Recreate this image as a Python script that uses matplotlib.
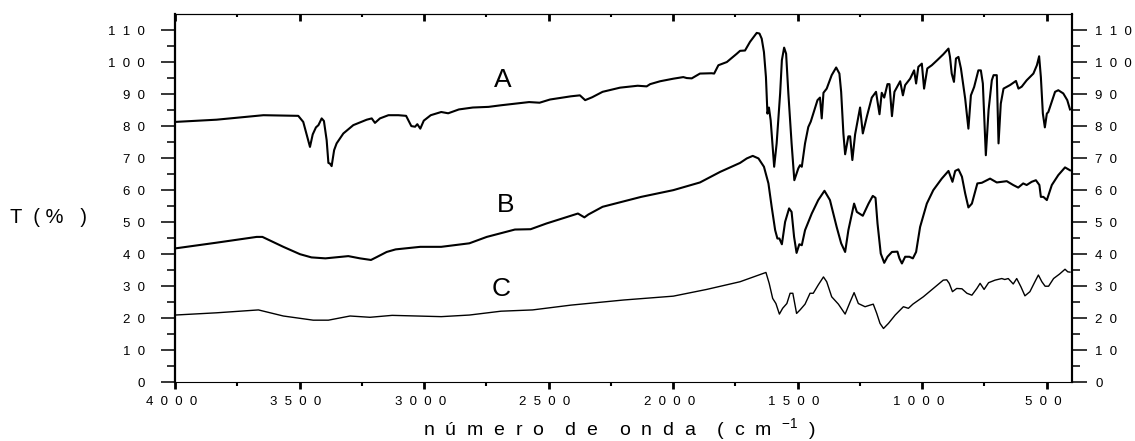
import numpy as np
import matplotlib.pyplot as plt
from matplotlib.ticker import MultipleLocator, FixedLocator, FuncFormatter

plt.rcParams['font.family'] = 'Liberation Sans'
plt.rcParams['mathtext.fontset'] = 'custom'
plt.rcParams['mathtext.rm'] = 'Liberation Sans'
plt.rcParams['mathtext.default'] = 'regular'

# spectrum A
A_wn = [4000, 3833, 3645, 3505, 3485, 3469, 3458, 3447, 3434, 3424, 3411, 3402, 3391, 3384,
        3378, 3371, 3361, 3351, 3324, 3284, 3230, 3210, 3197, 3177, 3143, 3103, 3072, 3051,
        3036, 3027, 3015, 3001, 2973, 2931, 2903, 2860, 2804, 2741, 2691, 2635, 2578, 2536,
        2494, 2410, 2374, 2353, 2325, 2283, 2213, 2142, 2106, 2092, 2052, 1999, 1959, 1945,
        1925, 1892, 1845, 1835, 1818, 1784, 1744, 1731, 1711, 1691, 1664, 1653, 1644, 1635,
        1627, 1621, 1615, 1608, 1594, 1584, 1570, 1563, 1554, 1546, 1537, 1524, 1513, 1497,
        1490, 1483, 1470, 1457, 1447, 1437, 1420, 1410, 1403, 1396, 1383, 1363, 1345, 1332,
        1325, 1316, 1309, 1296, 1289, 1280, 1269, 1249, 1238, 1222, 1202, 1185, 1171, 1162,
        1152, 1139, 1131, 1121, 1111, 1088, 1077, 1068, 1048, 1032, 1024, 1015, 1001, 992,
        979, 961, 939, 915, 894, 888, 881, 872, 864, 854, 844, 827, 814, 804, 791, 774, 764,
        756, 744, 733, 720, 713, 700, 693, 684, 673, 647, 623, 613, 600, 580, 553, 539, 530,
        523, 515, 507, 499, 493, 466, 453, 433, 417, 406]
A_t = [81.3, 82.0, 83.4, 83.2, 81.3, 76.6, 73.5, 77.4, 79.6, 80.3, 82.4, 81.6, 75.6, 68.5,
       68.3, 67.5, 72.5, 74.6, 77.7, 80.3, 82.0, 82.4, 81.0, 82.4, 83.4, 83.4, 83.2, 80.0,
       79.8, 80.6, 79.2, 81.7, 83.4, 84.4, 84.0, 85.2, 85.8, 86.0, 86.5, 87.0, 87.5, 87.3,
       88.3, 89.3, 89.6, 88.1, 89.0, 90.7, 92.0, 92.6, 92.4, 93.1, 94.0, 94.8, 95.3, 95.0,
       94.9, 96.4, 96.5, 96.4, 99.0, 100.0, 102.6, 103.5, 103.6, 106.3, 109.1, 108.9, 107.3, 103.1,
       95.3, 83.9, 85.8, 81.8, 67.3, 74.6, 90.2, 100.6, 104.5, 102.6, 90.2, 74.6, 63.1, 66.8,
       67.8, 67.3, 74.6, 79.7, 81.4, 83.9, 88.1, 88.9, 82.4, 90.4, 91.7, 95.9, 98.3, 96.4,
       90.7, 77.7, 71.2, 76.8, 76.8, 69.4, 77.4, 85.8, 77.7, 82.9, 88.9, 90.7, 83.7, 90.4,
       88.9, 93.1, 93.1, 83.1, 90.7, 94.0, 89.6, 92.8, 94.8, 97.4, 93.3, 98.5, 99.5, 91.7,
       98.0, 99.0, 100.6, 102.4, 104.2, 101.6, 96.4, 93.8, 101.1, 101.6, 98.0, 88.6, 79.2, 89.6, 92.2, 97.4, 97.4,
       93.3, 70.9, 85.0, 94.3, 95.9, 95.9, 74.6, 87.0, 91.7, 92.8, 94.1, 91.7, 92.3, 94.3, 96.4, 99.0, 101.8,
       95.3, 83.9, 79.6, 83.9, 84.4, 90.7, 91.2, 90.2, 88.1, 85.2]

# spectrum B
B_wn = [4000, 3833, 3672, 3649, 3565, 3498, 3452, 3396, 3304, 3257, 3213, 3190, 3150, 3114,
        3015, 2931, 2818, 2748, 2635, 2572, 2508, 2382, 2356, 2340, 2283, 2128, 1999, 1892,
        1811, 1731, 1704, 1680, 1657, 1635, 1617, 1604, 1590, 1581, 1573, 1563, 1550, 1534,
        1524, 1514, 1504, 1493, 1483, 1470, 1443, 1417, 1392, 1370, 1343, 1325, 1309, 1296,
        1273, 1262, 1238, 1215, 1198, 1187, 1179, 1166, 1152, 1139, 1121, 1099, 1091, 1081,
        1068, 1051, 1037, 1024, 1008, 981, 955, 921, 894, 878, 867, 854, 840, 827, 814, 800,
        778, 760, 727, 700, 660, 634, 614, 594, 580, 560, 543, 529, 523, 513, 499, 479, 453,
        426, 406]
B_t = [41.8, 43.6, 45.4, 45.4, 42.3, 40.0, 39.0, 38.7, 39.4, 38.7, 38.2, 39.1, 40.7, 41.5,
       42.3, 42.3, 43.4, 45.4, 47.7, 47.8, 49.6, 52.7, 51.5, 52.4, 54.8, 57.9, 60.0, 62.4,
       65.7, 68.5, 69.9, 70.7, 69.9, 67.3, 62.1, 54.8, 47.5, 44.9, 44.9, 43.1, 50.1, 54.3,
       53.2, 45.4, 40.4, 43.1, 42.8, 47.5, 52.7, 56.9, 59.8, 56.9, 48.5, 43.4, 40.7, 47.5,
       55.8, 53.2, 52.0, 55.8, 58.2, 57.6, 49.6, 40.2, 37.3, 39.2, 40.7, 40.8, 38.7, 37.1,
       39.2, 39.2, 38.7, 40.7, 48.5, 55.8, 60.0, 63.6, 66.0, 62.6, 66.0, 66.5, 64.2, 59.0, 54.6, 55.8,
       62.1, 62.3, 63.6, 62.4, 62.8, 61.6, 60.8, 62.1, 61.6, 62.6, 63.1, 61.6, 57.9, 57.9, 56.9, 61.6, 64.7,
       67.1, 66.2]

# spectrum C
C_wn = [4000, 3833, 3665, 3565, 3445, 3384, 3297, 3217, 3128, 3029, 2931, 2818, 2691, 2564,
        2410, 2198, 1999, 1865, 1731, 1627, 1614, 1600, 1587, 1573, 1560, 1543, 1530, 1519,
        1504, 1490, 1470, 1450, 1437, 1417, 1396, 1383, 1363, 1336, 1309, 1289, 1273, 1256,
        1229, 1209, 1196, 1182, 1169, 1155, 1135, 1108, 1075, 1055, 1037, 995, 955, 915, 901,
        891, 878, 861, 840, 820, 800, 780, 767, 751, 733, 707, 680, 668, 654, 634, 620, 603,
        587, 567, 547, 533, 519, 506, 492, 472, 448, 426, 415, 406]
C_t = [21.0, 21.7, 22.6, 20.7, 19.4, 19.4, 20.7, 20.3, 20.9, 20.7, 20.5, 21.0, 22.2, 22.6,
       24.1, 25.7, 26.9, 29.0, 31.4, 34.3, 30.9, 26.2, 24.6, 21.3, 23.1, 24.6, 27.8, 27.8,
       21.5, 22.6, 24.4, 27.8, 27.8, 30.4, 32.9, 31.4, 26.7, 24.4, 21.3, 25.1, 28.0, 24.6,
       23.6, 24.1, 24.4, 21.5, 18.4, 16.8, 18.4, 21.0, 23.6, 23.1, 24.4, 26.7, 29.3, 31.9, 32.0,
       30.9, 28.3, 29.3, 29.2, 27.8, 27.2, 29.3, 30.9, 29.0, 31.1, 31.9, 32.4, 32.1, 32.4, 30.7, 32.4, 29.8,
       27.0, 28.3, 31.4, 33.5, 31.4, 30.0, 30.0, 32.4, 33.8, 35.3, 34.5, 34.4]

curve_labels = ['A', 'B', 'C']
label_wn = [2683, 2671, 2691]
label_t = [92.2, 53.2, 26.9]

x_major = [4000, 3500, 3000, 2500, 2000, 1500, 1000, 500]
x_minor = [3750, 3250, 2750, 2250, 1750, 1250, 750]
y_major = list(range(0, 111, 10))
y_minor = list(range(5, 115, 10))


def spaced(v, pos=None):
    return '  '.join(str(int(round(v))))


def spaced_x(v, pos=None):
    return '  '.join(str(int(round(v)))) + '  '


fig = plt.figure(figsize=(11.35, 4.41), dpi=100)
ax = fig.add_axes([175 / 1135, 1 - 382.3 / 441, (1071.5 - 175) / 1135, (382.3 - 14) / 441])

ax.plot(A_wn, A_t, color='black', lw=1.5)
ax.plot(B_wn, B_t, color='black', lw=1.5)
ax.plot(C_wn, C_t, color='black', lw=1.0)

for lab, xw, yt in zip(curve_labels, label_wn, label_t):
    ax.text(xw, yt, lab, fontsize=19, ha='center', va='baseline')

ax.set_xlim(4000, 400)
ax.set_ylim(0, 115)

ax.xaxis.set_major_locator(FixedLocator(x_major))
ax.xaxis.set_minor_locator(FixedLocator(x_minor))
ax.xaxis.set_major_formatter(FuncFormatter(spaced_x))
ax.yaxis.set_major_locator(FixedLocator(y_major))
ax.yaxis.set_minor_locator(FixedLocator(y_minor))
ax.yaxis.set_major_formatter(FuncFormatter(spaced))

ax.tick_params(axis='x', which='major', direction='out', length=4.8, width=2,
               labelsize=9.5, pad=5, top=False)
ax.tick_params(axis='x', which='minor', direction='out', length=3, width=1.5, top=False)
ax.tick_params(axis='y', which='major', direction='out', length=10, width=1.1,
               labelsize=9.5, pad=11.5, right=False)
ax.tick_params(axis='y', which='minor', direction='out', length=5.8, width=1.1, right=False)

# top axis: inward ticks, no labels
secx = ax.secondary_xaxis('top')
secx.xaxis.set_major_locator(FixedLocator(x_major))
secx.xaxis.set_minor_locator(FixedLocator(x_minor))
secx.tick_params(axis='x', which='major', direction='in', length=4.8, width=2, labeltop=False)
secx.tick_params(axis='x', which='minor', direction='in', length=2.4, width=1.5)
secx.spines['top'].set_linewidth(0.8)

# right axis: outward ticks with labels
secy = ax.secondary_yaxis('right')
secy.yaxis.set_major_locator(FixedLocator(y_major))
secy.yaxis.set_minor_locator(FixedLocator(y_minor))
secy.yaxis.set_major_formatter(FuncFormatter(spaced))
secy.tick_params(axis='y', which='major', direction='out', length=10.5, width=1.1,
                 labelsize=9.5, pad=6.5)
secy.tick_params(axis='y', which='minor', direction='out', length=5.8, width=1.1)
secy.spines['right'].set_linewidth(1.5)

ax.spines['left'].set_linewidth(1.6)
ax.spines['right'].set_linewidth(1.5)
ax.spines['top'].set_linewidth(0.8)
ax.spines['bottom'].set_linewidth(0.8)

fig.text(10 / 1135, 1 - 218 / 441, 'T  ( %   )', fontsize=14.5, ha='left', va='center')
fig.text(620 / 1135, 6 / 441,
         'n  ú  m  e  r  o    d  e    o  n  d  a    (  c  m  $^{-1}$  )',
         fontsize=14, ha='center', va='baseline')

fig.savefig('out.png', dpi=100, facecolor='white')
